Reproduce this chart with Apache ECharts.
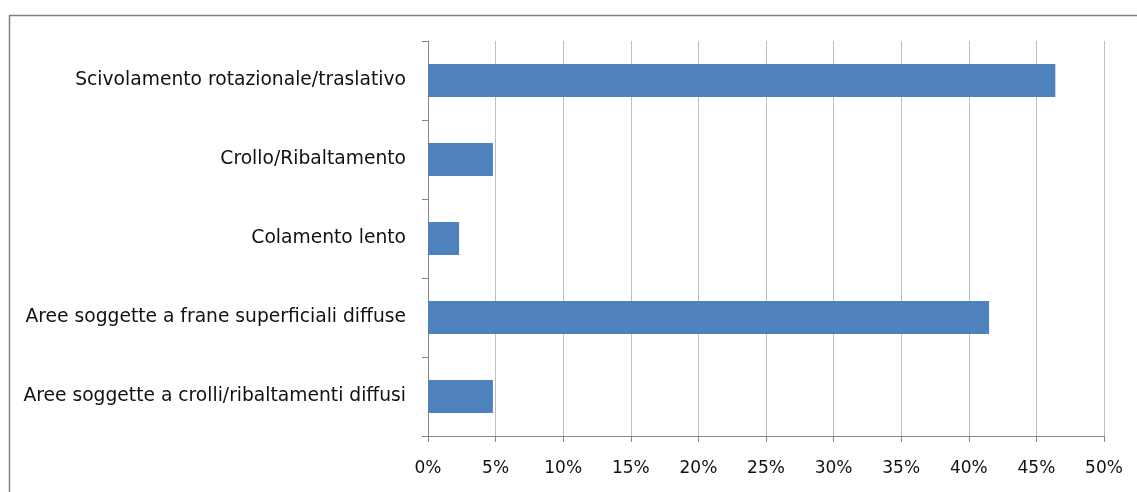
<!DOCTYPE html>
<html><head><meta charset="utf-8">
<script src="https://cdn.jsdelivr.net/npm/echarts@6/dist/echarts.min.js"></script>
<style>html,body{margin:0;padding:0;background:#fff}#c{width:1137px;height:492px}</style>
</head><body><div id="c"></div>
<script>
const categories = [
  "Scivolamento rotazionale/traslativo",
  "Crollo/Ribaltamento",
  "Colamento lento",
  "Aree soggette a frane superficiali diffuse",
  "Aree soggette a crolli/ribaltamenti diffusi"
];
const values = [46.4, 4.8, 2.3, 41.5, 4.8];
const xTicks = [0, 5, 10, 15, 20, 25, 30, 35, 40, 45, 50];

const chart = echarts.init(document.getElementById('c'), null, {renderer: 'canvas'});
const font = '"DejaVu Sans", sans-serif';
chart.setOption({
  animation: false,
  graphic: [{
    type: 'rect', silent: true,
    shape: {x: 9.5, y: 15.5, width: 1140, height: 490},
    style: {fill: 'none', stroke: '#808080', lineWidth: 1.5}
  }],
  grid: {left: 428, right: 33, top: 41, bottom: 56, containLabel: false},
  xAxis: {
    type: 'value', min: xTicks[0], max: xTicks[xTicks.length - 1], interval: 5,
    axisLine: {show: true, lineStyle: {color: '#868686', width: 1}},
    axisTick: {show: true, length: 6, lineStyle: {color: '#868686'}},
    splitLine: {show: true, lineStyle: {color: '#bfbfbf', width: 1}},
    axisLabel: {margin: 24, color: '#111', fontSize: 17, fontFamily: font,
      formatter: v => v + '%'}
  },
  yAxis: {
    type: 'category', data: categories, inverse: true,
    axisLine: {show: true, lineStyle: {color: '#868686', width: 1}},
    axisTick: {show: true, length: 6, alignWithLabel: false, lineStyle: {color: '#868686'}},
    axisLabel: {margin: 22, color: '#111', fontSize: 18.7, fontFamily: font}
  },
  series: [{
    type: 'bar', data: values, barWidth: 33,
    itemStyle: {color: '#4f81bd'}
  }]
});
</script></body></html>
